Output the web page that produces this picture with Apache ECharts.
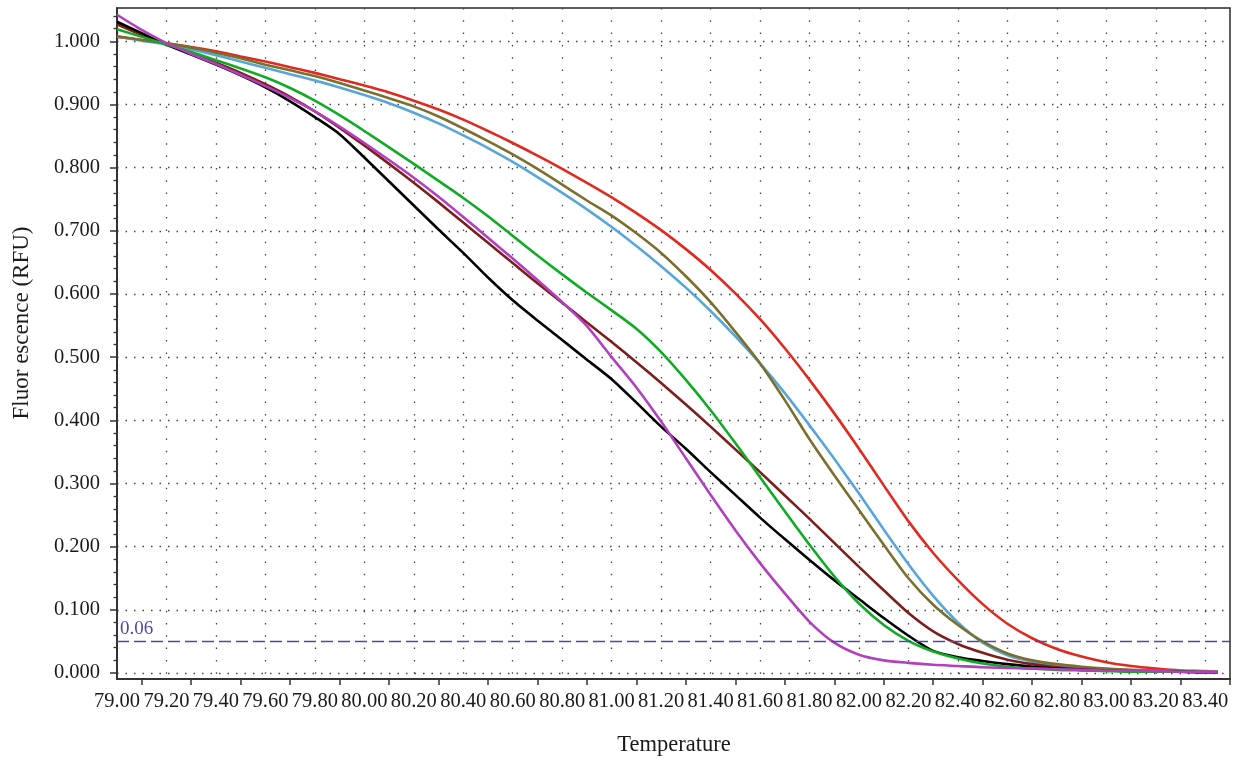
<!DOCTYPE html>
<html>
<head>
<meta charset="utf-8">
<script src="https://cdn.jsdelivr.net/npm/echarts@6/dist/echarts.min.js"></script>
<style>
html,body{margin:0;padding:0;background:#fff;}
#chart{width:1239px;height:759px;}
</style>
</head>
<body>
<div id="chart"></div>
<script>
// Temperature sample points
const temps = [79.0, 79.1, 79.2, 79.3, 79.4, 79.5, 79.6, 79.7, 79.8, 79.9,
  80.0, 80.1, 80.2, 80.3, 80.4, 80.5, 80.6, 80.7, 80.8, 80.9,
  81.0, 81.1, 81.2, 81.3, 81.4, 81.5, 81.6, 81.7, 81.8, 81.9,
  82.0, 82.1, 82.2, 82.3, 82.4, 82.5, 82.6, 82.7, 82.8, 82.9,
  83.0, 83.1, 83.2, 83.3, 83.4, 83.45];

// Fluorescence (RFU) per curve
const redValues = [1.007, 1.002, 0.997, 0.991, 0.984, 0.976, 0.968, 0.959, 0.950, 0.940,
  0.930, 0.919, 0.906, 0.892, 0.876, 0.858, 0.839, 0.819, 0.798, 0.776,
  0.753, 0.728, 0.701, 0.671, 0.638, 0.601, 0.560, 0.514, 0.464, 0.411,
  0.355, 0.297, 0.240, 0.190, 0.147, 0.109, 0.078, 0.055, 0.038, 0.026,
  0.017, 0.011, 0.007, 0.004, 0.003, 0.002];
const blueValues = [1.008, 1.001, 0.995, 0.987, 0.978, 0.968, 0.958, 0.948, 0.938, 0.927,
  0.915, 0.902, 0.887, 0.870, 0.851, 0.831, 0.809, 0.785, 0.760, 0.734,
  0.706, 0.676, 0.644, 0.610, 0.573, 0.533, 0.490, 0.443, 0.392, 0.339,
  0.284, 0.227, 0.172, 0.122, 0.080, 0.048, 0.028, 0.018, 0.012, 0.008,
  0.006, 0.004, 0.003, 0.003, 0.002, 0.002];
const oliveValues = [1.008, 1.002, 0.997, 0.990, 0.982, 0.973, 0.963, 0.954, 0.945, 0.934,
  0.922, 0.910, 0.897, 0.881, 0.862, 0.842, 0.821, 0.798, 0.773, 0.748,
  0.724, 0.696, 0.665, 0.628, 0.587, 0.540, 0.490, 0.432, 0.370, 0.313,
  0.258, 0.203, 0.150, 0.108, 0.076, 0.050, 0.031, 0.020, 0.014, 0.010,
  0.007, 0.005, 0.004, 0.003, 0.002, 0.002];
const maroonValues = [1.027, 1.010, 0.995, 0.981, 0.966, 0.950, 0.932, 0.912, 0.889, 0.863,
  0.835, 0.806, 0.776, 0.745, 0.713, 0.681, 0.649, 0.617, 0.586, 0.555,
  0.524, 0.492, 0.459, 0.425, 0.390, 0.354, 0.318, 0.281, 0.244, 0.206,
  0.168, 0.131, 0.095, 0.066, 0.046, 0.032, 0.021, 0.014, 0.009, 0.006,
  0.004, 0.003, 0.002, 0.002, 0.001, 0.001];
const blackValues = [1.031, 1.013, 0.995, 0.979, 0.963, 0.946, 0.927, 0.905, 0.880, 0.853,
  0.816, 0.778, 0.740, 0.702, 0.665, 0.626, 0.590, 0.558, 0.527, 0.496,
  0.465, 0.428, 0.390, 0.355, 0.318, 0.282, 0.246, 0.212, 0.179, 0.147,
  0.117, 0.087, 0.059, 0.035, 0.025, 0.019, 0.014, 0.010, 0.007, 0.005,
  0.004, 0.003, 0.002, 0.002, 0.001, 0.001];
const greenValues = [1.019, 1.007, 0.995, 0.983, 0.970, 0.957, 0.943, 0.926, 0.906, 0.883,
  0.858, 0.832, 0.806, 0.779, 0.752, 0.723, 0.692, 0.661, 0.631, 0.602,
  0.574, 0.545, 0.508, 0.464, 0.416, 0.364, 0.310, 0.256, 0.203, 0.153,
  0.110, 0.076, 0.051, 0.034, 0.023, 0.015, 0.010, 0.007, 0.005, 0.004,
  0.003, 0.002, 0.002, 0.002, 0.001, 0.001];
const purpleValues = [1.042, 1.018, 0.997, 0.980, 0.964, 0.947, 0.929, 0.910, 0.889, 0.865,
  0.839, 0.812, 0.784, 0.754, 0.722, 0.689, 0.656, 0.622, 0.587, 0.549,
  0.500, 0.452, 0.398, 0.340, 0.282, 0.226, 0.174, 0.126, 0.081, 0.048,
  0.029, 0.020, 0.016, 0.013, 0.011, 0.009, 0.008, 0.007, 0.006, 0.005,
  0.004, 0.004, 0.003, 0.002, 0.002, 0.002];

// Axis tick / label values
const xLabelValues = [79.0, 79.2, 79.4, 79.6, 79.8, 80.0, 80.2, 80.4, 80.6, 80.8, 81.0, 81.2,
  81.4, 81.6, 81.8, 82.0, 82.2, 82.4, 82.6, 82.8, 83.0, 83.2, 83.4];
const xTickValues = [79.1, 79.3, 79.5, 79.7, 79.9, 80.1, 80.3, 80.5, 80.7, 80.9, 81.1, 81.3,
  81.5, 81.7, 81.9, 82.1, 82.3, 82.5, 82.7, 82.9, 83.1, 83.3, 83.5];
const yMajorValues = [0, 0.1, 0.2, 0.3, 0.4, 0.5, 0.6, 0.7, 0.8, 0.9, 1.0];
const yMinorValues = [0.02, 0.04, 0.06, 0.08, 0.12, 0.14, 0.16, 0.18, 0.22, 0.24, 0.26, 0.28,
  0.32, 0.34, 0.36, 0.38, 0.42, 0.44, 0.46, 0.48, 0.52, 0.54, 0.56, 0.58,
  0.62, 0.64, 0.66, 0.68, 0.72, 0.74, 0.76, 0.78, 0.82, 0.84, 0.86, 0.88,
  0.92, 0.94, 0.96, 0.98, 1.02, 1.04];
const thresholdValue = 0.05;
const thresholdLabel = '0.06';

const FONT = 'Liberation Serif';
const X_MIN = 79.0, X_MAX = 83.5, Y_MIN = -0.0095, Y_MAX = 1.0527;

const seriesDefs = [
  {name: 'Red', color: '#e1291f', values: redValues},
  {name: 'Blue', color: '#58a6d9', values: blueValues},
  {name: 'Olive', color: '#7a6f2c', values: oliveValues},
  {name: 'Maroon', color: '#7c1f1c', values: maroonValues},
  {name: 'Black', color: '#000000', values: blackValues},
  {name: 'Green', color: '#0fab25', values: greenValues},
  {name: 'Purple', color: '#b23fbe', values: purpleValues}
];

const chart = echarts.init(document.getElementById('chart'), null, {renderer: 'canvas'});

const series = seriesDefs.map(function (d) {
  return {
    name: d.name,
    type: 'line',
    xAxisIndex: 0,
    yAxisIndex: 0,
    data: temps.map(function (t, i) { return [t, d.values[i]]; }),
    showSymbol: false,
    smooth: 0.25,
    lineStyle: {color: d.color, width: 2.6},
    itemStyle: {color: d.color},
    emphasis: {disabled: true},
    z: 3
  };
});

series[0].markLine = {
  silent: true,
  symbol: 'none',
  lineStyle: {color: '#4a4aaa', type: [12, 5], width: 1.3},
  label: {
    show: true,
    position: 'insideStartTop',
    formatter: thresholdLabel,
    color: '#4a4aaa',
    fontFamily: FONT,
    fontSize: 19,
    distance: [3, 3]
  },
  data: [{yAxis: thresholdValue}]
};

const option = {
  backgroundColor: '#ffffff',
  animation: false,
  grid: {
    left: 117, right: 9, top: 8, bottom: 80,
    show: true, borderColor: '#2a2a2a', borderWidth: 1.5,
    containLabel: false
  },
  xAxis: [
    {
      type: 'value', min: X_MIN, max: X_MAX,
      axisLine: {show: false},
      axisTick: {show: false, customValues: xLabelValues},
      axisLabel: {
        customValues: xLabelValues,
        formatter: function (v) { return v.toFixed(2); },
        fontFamily: FONT, fontSize: 20.5, color: '#1a1a1a', margin: 12
      },
      splitLine: {show: true, lineStyle: {color: '#444', type: [1.5, 10.8], width: 1.3}}
    },
    {
      type: 'value', min: X_MIN, max: X_MAX, position: 'bottom',
      axisLine: {show: true, onZero: false, lineStyle: {color: '#333', width: 2}},
      axisTick: {show: true, customValues: xTickValues, length: 6, lineStyle: {color: '#333', width: 1.5}},
      axisLabel: {show: false},
      splitLine: {show: false}
    }
  ],
  yAxis: [
    {
      type: 'value', min: Y_MIN, max: Y_MAX,
      axisLine: {show: true, onZero: false, lineStyle: {color: '#333', width: 2}},
      axisTick: {show: true, customValues: yMajorValues, length: 7, lineStyle: {color: '#333', width: 1.5}},
      axisLabel: {
        customValues: yMajorValues,
        formatter: function (v) { return v.toFixed(3); },
        fontFamily: FONT, fontSize: 20.5, color: '#1a1a1a', margin: 17
      },
      splitLine: {show: true, lineStyle: {color: '#444', type: [1.5, 7], width: 1.3}}
    },
    {
      type: 'value', min: Y_MIN, max: Y_MAX, position: 'left',
      axisLine: {show: false},
      axisTick: {show: true, customValues: yMinorValues, length: 3.5, lineStyle: {color: '#333', width: 1.3}},
      axisLabel: {show: false},
      splitLine: {show: false}
    }
  ],
  graphic: [
    {
      type: 'text', x: 674, y: 745,
      style: {text: 'Temperature', fontFamily: FONT, fontSize: 22.5, fill: '#1a1a1a', textAlign: 'center', textVerticalAlign: 'middle'}
    },
    {
      type: 'text', x: 22, y: 323, rotation: Math.PI / 2,
      style: {text: 'Fluor escence (RFU)', fontFamily: FONT, fontSize: 23, fill: '#1a1a1a', textAlign: 'center', textVerticalAlign: 'middle'}
    }
  ],
  series: series
};

chart.setOption(option);
</script>
</body>
</html>
